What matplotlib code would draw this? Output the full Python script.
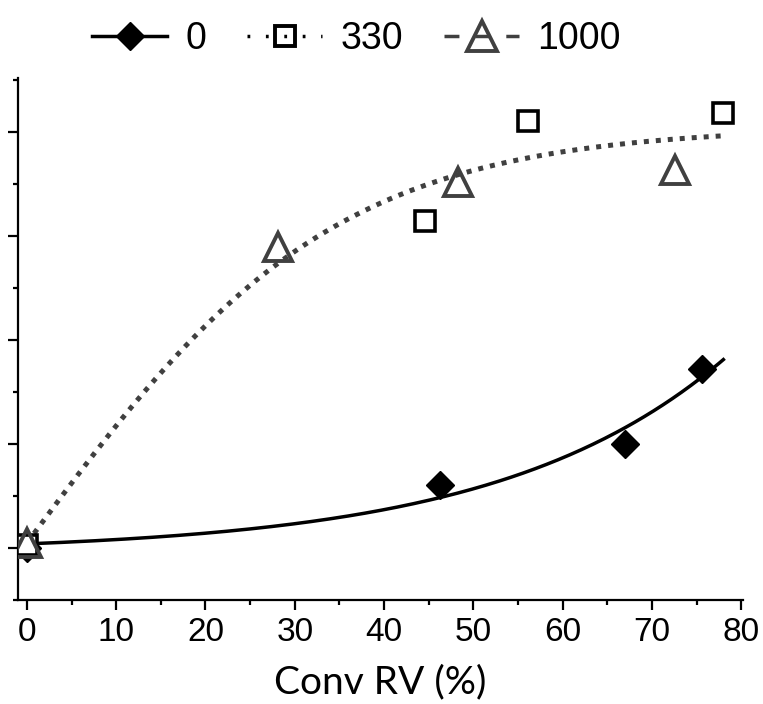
import numpy as np
import matplotlib
matplotlib.use("Agg")
import matplotlib.pyplot as plt
from matplotlib.lines import Line2D
from matplotlib.ticker import MultipleLocator

# Measured points for each series
x_0 = [0.0, 46.3, 67.0, 75.6]
y_0 = [1.00, 1.607, 2.00, 2.72]

x_330 = [0.0, 44.6, 56.1, 78.0]
y_330 = [1.03, 4.146, 5.11, 5.18]

x_1000 = [0.0, 28.1, 48.3, 72.6]
y_1000 = [1.05, 3.89, 4.52, 4.635]

series_labels = ["0", "330", "1000"]
x_ticks = [0, 10, 20, 30, 40, 50, 60, 70, 80]

GRAY = "#404040"


def fit_scan(x, y, basis, rates):
    """Least-squares fit of y = c + a*basis(b*x), scanning the rate b."""
    x = np.asarray(x, float)
    y = np.asarray(y, float)
    best = None
    for b in rates:
        A = np.column_stack([np.ones_like(x), basis(b * x)])
        coef, *_ = np.linalg.lstsq(A, y, rcond=None)
        err = np.sum((A @ coef - y) ** 2)
        if best is None or err < best[0]:
            best = (err, coef[0], coef[1], b)
    _, c, a, b = best
    return lambda t: c + a * basis(b * t)


fig = plt.figure(figsize=(7.63, 7.04), dpi=100)
ax = fig.add_axes([18 / 763, 1 - 600 / 704, (743 - 18) / 763, (600 - 78) / 704])

x_max = max(max(x_0), max(x_330), max(x_1000))
xs = np.linspace(0, x_max, 300)

# Growth trend for the "0" series
f0 = fit_scan(x_0, y_0, np.exp, np.linspace(0.001, 0.1, 2000))
ax.plot(xs, f0(xs), color="black", lw=2.5, zorder=2)

# Saturating trend shared by the 330 and 1000 series
xc = x_330 + x_1000
yc = y_330 + y_1000
fc = fit_scan(xc, yc, np.tanh, np.linspace(0.005, 0.1, 2000))
ax.plot(xs, fc(xs), color=GRAY, lw=3.6,
        linestyle=(0, (1, 1.4)), dash_capstyle="butt", zorder=2)

ax.plot(x_0, y_0, linestyle="none", marker="D", ms=14, color="black", zorder=4)
ax.plot(x_330, y_330, linestyle="none", marker="s", ms=14, mfc="white",
        mec="black", mew=2.6, zorder=4)
ax.plot(x_1000, y_1000, linestyle="none", marker="^", ms=19.5, mfc="none",
        mec=GRAY, mew=2.8, zorder=5)

ax.set_xlim(-1.0, 80.2)
ax.set_ylim(0.5, 5.52)
ax.set_xticks(x_ticks)
ax.xaxis.set_minor_locator(MultipleLocator(5))
ax.yaxis.set_major_locator(MultipleLocator(1))
ax.yaxis.set_minor_locator(MultipleLocator(0.5))
ax.set_yticklabels([])

for side in ("top", "right"):
    ax.spines[side].set_visible(False)
for side in ("left", "bottom"):
    ax.spines[side].set_linewidth(1.6)

ax.tick_params(axis="both", which="major", direction="out", length=7, width=1.6)
ax.tick_params(axis="both", which="minor", direction="out", length=3.5, width=1.6)
ax.tick_params(axis="x", which="major", labelsize=24, pad=5)
for lab in ax.get_xticklabels():
    lab.set_fontfamily("Liberation Sans")

ax.set_xlabel("Conv RV (%)", fontsize=28, family="Lato", labelpad=12)

handles = [
    Line2D([], [], color="black", lw=2.5, marker="D", ms=14),
    Line2D([], [], color="black", lw=2.5, linestyle=(0, (0.8, 4.5)), marker="s",
           ms=14, mfc="none", mec="black", mew=2.8),
    Line2D([], [], color=GRAY, lw=2.5, linestyle=(0, (4.3, 4.6)), marker="^",
           ms=21, mfc="none", mec=GRAY, mew=2.8),
]
fig.legend(handles, series_labels, loc="upper center", bbox_to_anchor=(0.467, 1.018),
           ncol=3, frameon=False, prop={"family": "Liberation Sans", "size": 27},
           handlelength=2.0, handletextpad=0.48, columnspacing=1.1)

fig.savefig("out.png", dpi=100)
